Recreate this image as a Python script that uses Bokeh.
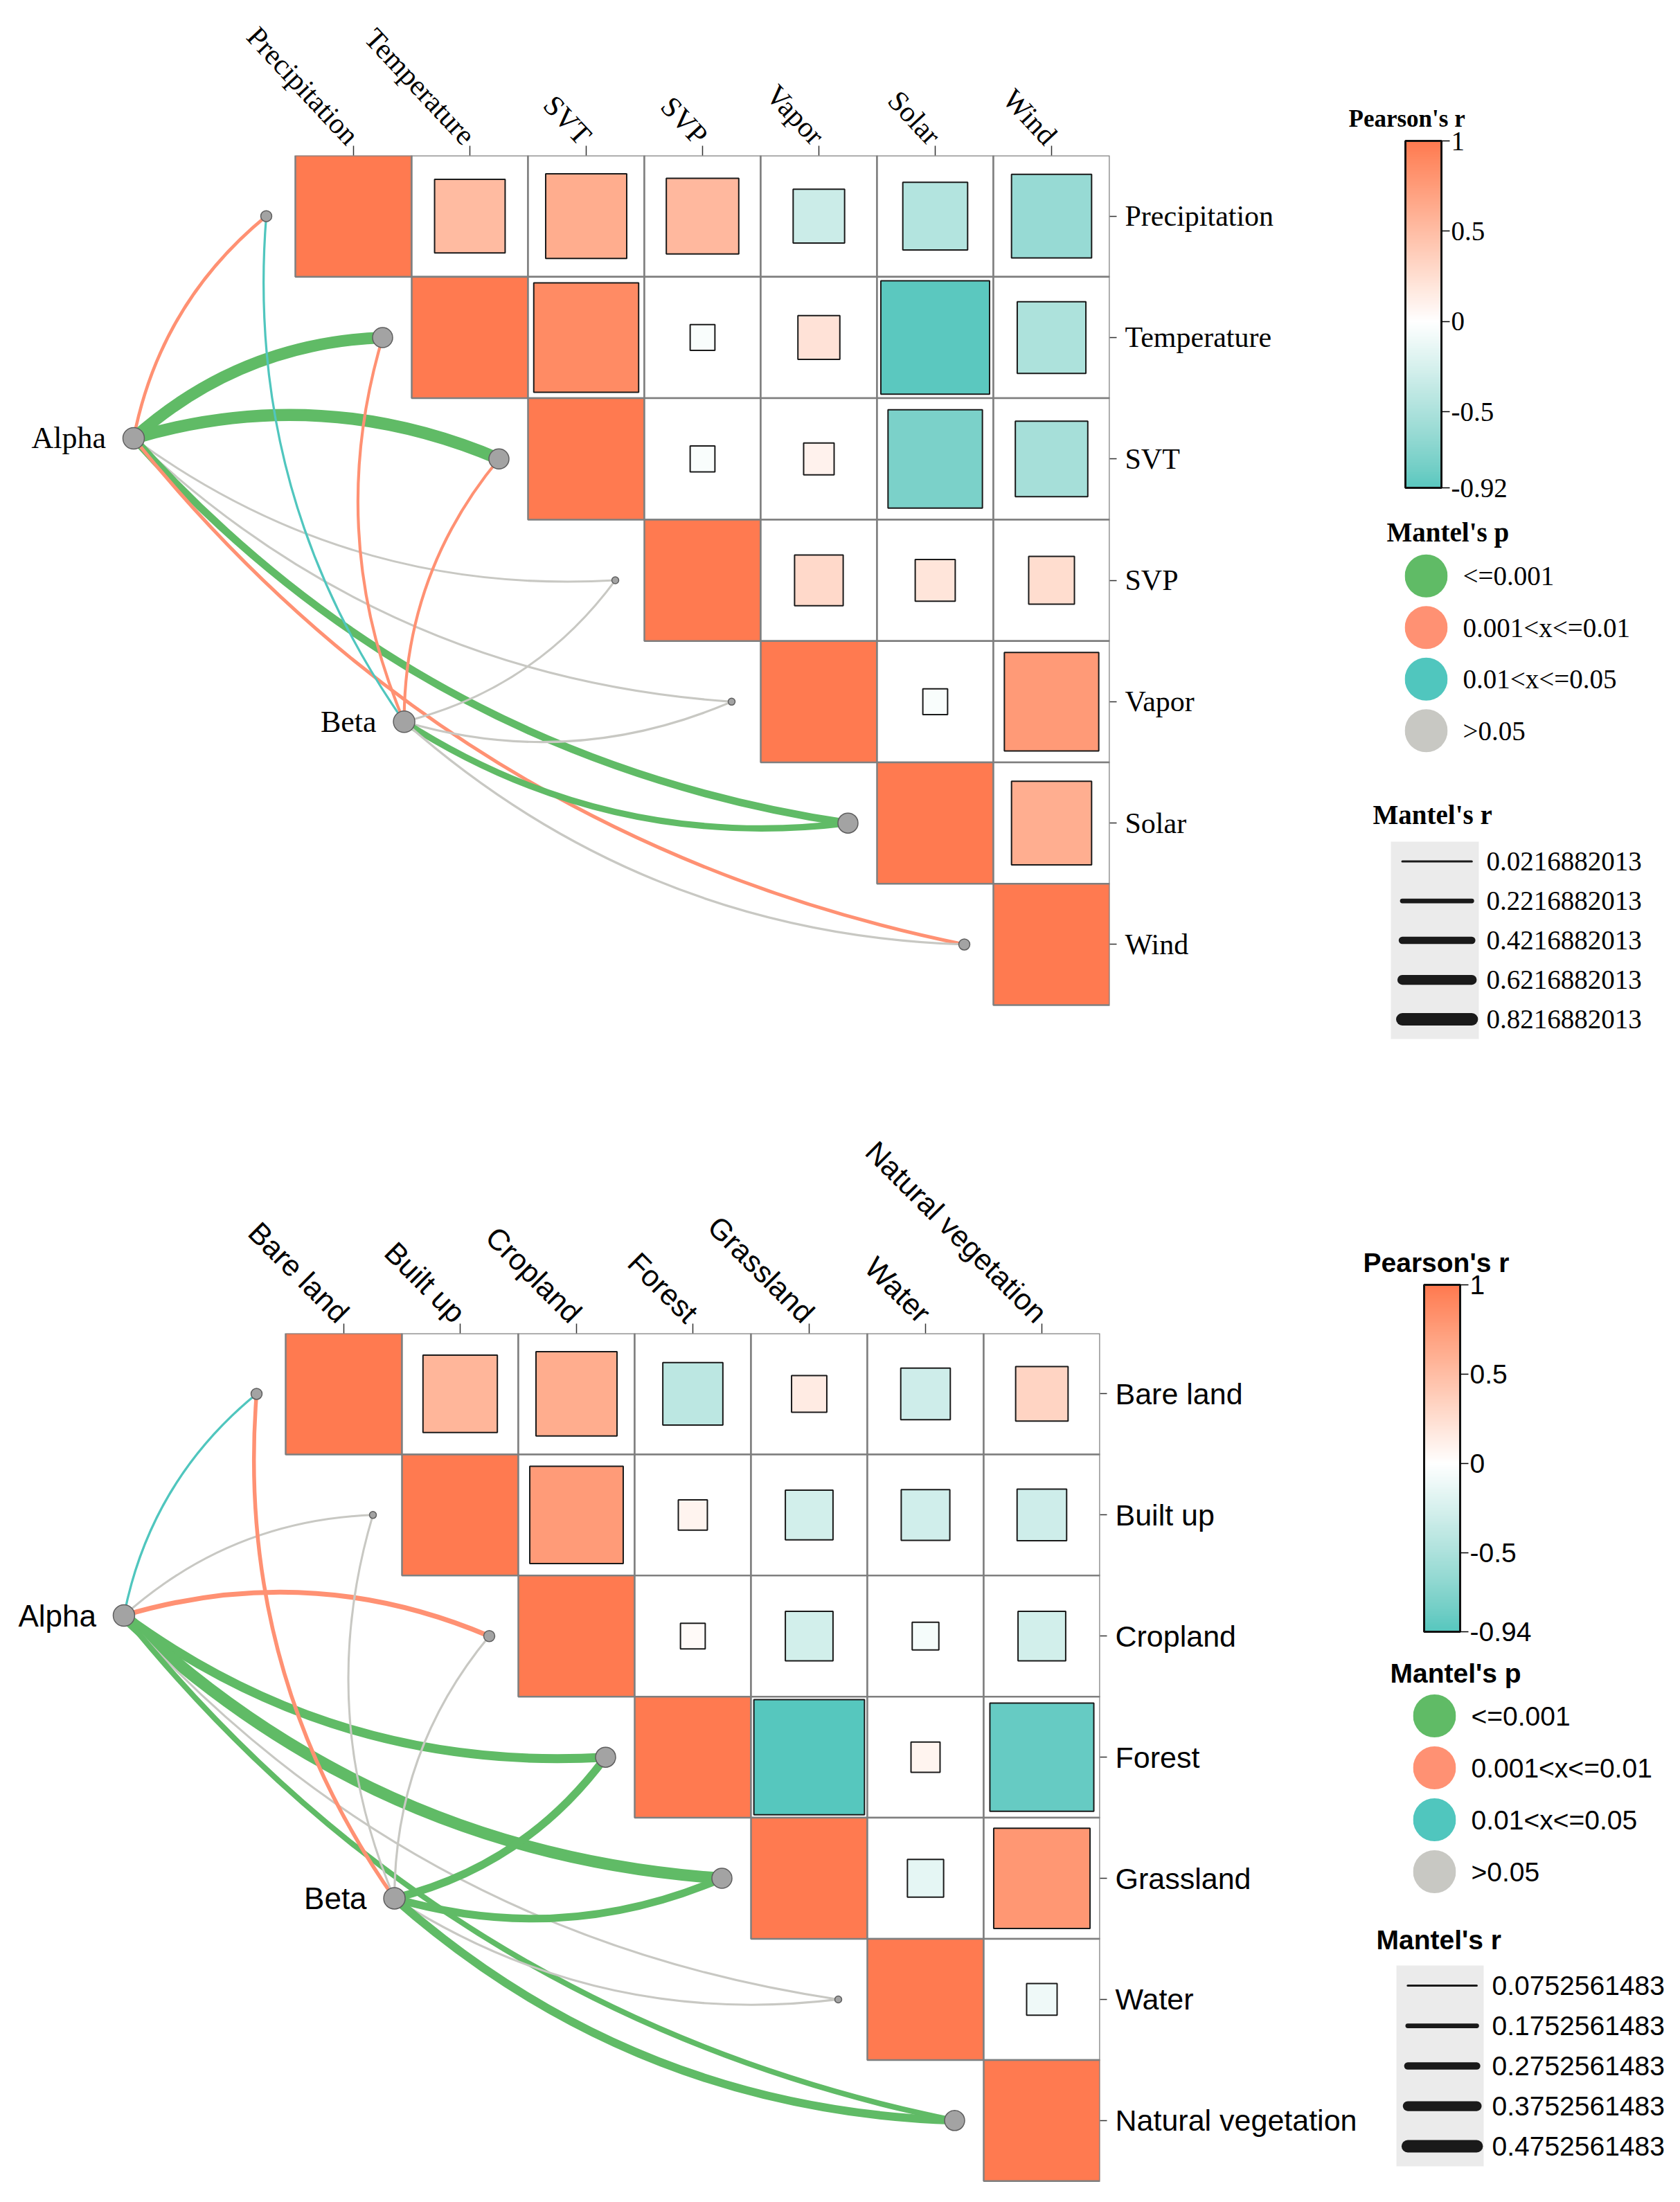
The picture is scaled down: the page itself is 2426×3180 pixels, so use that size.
import math
from bokeh.plotting import figure
from bokeh.models import (Range1d, FactorRange, FixedTicker, ColorBar, LinearColorMapper, ColumnDataSource,
                          AllLabels)
from bokeh.layouts import row, column
from bokeh.embed import file_html
from bokeh.resources import INLINE
from bokeh.core.properties import value

# ============================== DATA ==============================
p_levels = ["<=0.001", "0.001<x<=0.01", "0.01<x<=0.05", ">0.05"]

climate_vars = ["Precipitation", "Temperature", "SVT", "SVP", "Vapor", "Solar", "Wind"]
# upper triangle of Pearson's r: row i holds r(i, j) for j > i
climate_pearson = [
    [0.52, 0.63, 0.54, -0.32, -0.46, -0.62],
    [0.88, -0.04, 0.22, -0.92, -0.50],
    [-0.04, 0.10, -0.77, -0.54],
    [0.29, 0.20, 0.26],
    [-0.04, 0.77],
    [0.62],
]
climate_alpha_r = [0.107, 0.768, 0.800, 0.0216882013, 0.030, 0.440, 0.128]
climate_alpha_p = ["0.001<x<=0.01", "<=0.001", "<=0.001", ">0.05", ">0.05", "<=0.001", "0.001<x<=0.01"]
climate_beta_r = [0.035, 0.085, 0.085, 0.025, 0.028, 0.350, 0.035]
climate_beta_p = ["0.01<x<=0.05", "0.001<x<=0.01", "0.001<x<=0.01", ">0.05", ">0.05", "<=0.001", ">0.05"]
climate_r_breaks = [0.0216882013, 0.2216882013, 0.4216882013, 0.6216882013, 0.8216882013]
climate_cb_ticks = [1, 0.5, 0, -0.5, -0.92]
climate_cb_labels = ["1", "0.5", "0", "-0.5", "-0.92"]

land_vars = ["Bare land", "Built up", "Cropland", "Forest", "Grassland", "Water", "Natural vegetation"]
land_pearson = [
    [0.56, 0.63, -0.41, 0.15, -0.30, 0.33],
    [0.76, 0.085, -0.28, -0.29, -0.30],
    [0.04, -0.28, -0.06, -0.28],
    [-0.94, 0.085, -0.87],
    [-0.16, 0.79],
    [-0.10],
]
land_alpha_r = [0.083, 0.0752561483, 0.182, 0.342, 0.449, 0.078, 0.209]
land_alpha_p = ["0.01<x<=0.05", ">0.05", "0.001<x<=0.01", "<=0.001", "<=0.001", ">0.05", "<=0.001"]
land_beta_r = [0.142, 0.077, 0.080, 0.300, 0.290, 0.080, 0.315]
land_beta_p = ["0.001<x<=0.01", ">0.05", ">0.05", "<=0.001", "<=0.001", ">0.05", "<=0.001"]
land_r_breaks = [0.0752561483, 0.1752561483, 0.2752561483, 0.3752561483, 0.4752561483]
land_cb_ticks = [1, 0.5, 0, -0.5, -0.94]
land_cb_labels = ["1", "0.5", "0", "-0.5", "-0.94"]

# ============================== STYLE ==============================
P_COLORS = ["#60BB66", "#FF9173", "#50C6BE", "#C8C8C3"]
NODE_SIZES = [29, 16, 13, 10]
HIGH_HEX, MID_HEX, LOW_HEX = "#FF7A50", "#FFFFFF", "#46C3BA"
ALPHA_POS = (-1.89, 1.83)
BETA_POS = (0.435, 4.165)
END_SHIFT = 0.75
SAG = 0.09
SIDE_MIN = 0.18


def hex_rgb(h):
    return tuple(int(h[i:i + 2], 16) / 255 for i in (1, 3, 5))


def _lin(c):
    return c / 12.92 if c <= 0.04045 else ((c + 0.055) / 1.055) ** 2.4


def _gam(c):
    c = max(0.0, min(1.0, c))
    return 12.92 * c if c <= 0.0031308 else 1.055 * c ** (1 / 2.4) - 0.055


def rgb_lab(rgb):
    r, g, b = [_lin(c) for c in rgb]
    X = (0.4124 * r + 0.3576 * g + 0.1805 * b) / 0.95047
    Y = 0.2126 * r + 0.7152 * g + 0.0722 * b
    Z = (0.0193 * r + 0.1192 * g + 0.9505 * b) / 1.08883

    def f(t):
        return t ** (1 / 3) if t > 0.008856 else 7.787 * t + 16 / 116
    fx, fy, fz = f(X), f(Y), f(Z)
    return (116 * fy - 16, 500 * (fx - fy), 200 * (fy - fz))


def lab_rgb(lab):
    L, a, b = lab
    fy = (L + 16) / 116
    fx = fy + a / 500
    fz = fy - b / 200

    def fi(t):
        return t ** 3 if t ** 3 > 0.008856 else (t - 16 / 116) / 7.787
    X, Y, Z = 0.95047 * fi(fx), fi(fy), 1.08883 * fi(fz)
    r = 3.2406 * X - 1.5372 * Y - 0.4986 * Z
    g = -0.9689 * X + 1.8758 * Y + 0.0415 * Z
    bb = 0.0557 * X - 0.2040 * Y + 1.0570 * Z
    return tuple(_gam(c) for c in (r, g, bb))


LAB_HIGH, LAB_MID, LAB_LOW = rgb_lab(hex_rgb(HIGH_HEX)), rgb_lab(hex_rgb(MID_HEX)), rgb_lab(hex_rgb(LOW_HEX))


def fill_for(r):
    t = max(-1.0, min(1.0, r))
    end = LAB_HIGH if t >= 0 else LAB_LOW
    a = abs(t)
    lab = tuple(LAB_MID[k] + (end[k] - LAB_MID[k]) * a for k in range(3))
    return "#%02x%02x%02x" % tuple(int(round(c * 255)) for c in lab_rgb(lab))


def link_width(r, breaks):
    return 3.0 + 15.0 * (r - breaks[0]) / (breaks[-1] - breaks[0])


def make_main(names, pearson, alpha_r, alpha_p, beta_r, beta_p, breaks, font, axis_fs, angle_deg,
              fig_w, fig_h, grid_left, grid_top, cw, ch, tick_out, standoff):
    n = len(names)
    frame_w = n * cw
    p = figure(width=fig_w, height=fig_h,
               x_range=Range1d(-0.5 - grid_left / cw, n - 0.5),
               y_range=Range1d(-0.5 + (fig_h - grid_top) / ch, -0.5),
               x_axis_location="above", y_axis_location="right",
               toolbar_location=None, output_backend="svg",
               min_border_left=0, min_border_bottom=0,
               min_border_top=grid_top, min_border_right=int(round(fig_w - grid_left - frame_w)))
    p.outline_line_color = None
    p.grid.visible = False

    # grid cells (upper triangle incl. diagonal)
    cl, cr, ct, cbt, cf = [], [], [], [], []
    for i in range(n):
        for j in range(i, n):
            cl.append(j - 0.5); cr.append(j + 0.5); ct.append(i - 0.5); cbt.append(i + 0.5)
            cf.append(fill_for(1.0) if i == j else "#FFFFFF")
    p.quad(left=cl, right=cr, top=ct, bottom=cbt, fill_color=cf, line_color="#7F7F7F", line_width=2.5)

    # correlation squares
    sl, sr, st, sb, sf = [], [], [], [], []
    for i in range(len(pearson)):
        for k, r in enumerate(pearson[i]):
            j = i + 1 + k
            h = (SIDE_MIN + (1 - SIDE_MIN) * abs(r)) / 2
            sl.append(j - h); sr.append(j + h); st.append(i - h); sb.append(i + h)
            sf.append(fill_for(r))
    p.quad(left=sl, right=sr, top=st, bottom=sb, fill_color=sf, line_color="#1A1A1A", line_width=2)

    # Mantel links
    lk = dict(x0=[], y0=[], x1=[], y1=[], cx=[], cy=[], color=[], width=[])
    best = [len(p_levels) - 1] * n
    for (nx, ny), rs, ps in ((ALPHA_POS, alpha_r, alpha_p), (BETA_POS, beta_r, beta_p)):
        for i in range(n):
            ex, ey = i - END_SHIFT, i
            X0, Y0, X1, Y1 = nx * cw, ny * ch, ex * cw, ey * ch
            dx, dy = X1 - X0, Y1 - Y0
            L = math.hypot(dx, dy)
            sgn = 1 if i < (n - 1) / 2 else -1
            ux, uy = dy / L, -dx / L
            Cx = (X0 + X1) / 2 + sgn * 2 * SAG * L * ux
            Cy = (Y0 + Y1) / 2 + sgn * 2 * SAG * L * uy
            li = p_levels.index(ps[i])
            lk["x0"].append(nx); lk["y0"].append(ny)
            lk["x1"].append(ex); lk["y1"].append(ey)
            lk["cx"].append(Cx / cw); lk["cy"].append(Cy / ch)
            lk["color"].append(P_COLORS[li]); lk["width"].append(link_width(rs[i], breaks))
            best[i] = min(best[i], li)
    p.quadratic(x0="x0", y0="y0", x1="x1", y1="y1", cx="cx", cy="cy",
                line_color="color", line_width="width", source=ColumnDataSource(lk))

    # end nodes
    p.scatter(x=[i - END_SHIFT for i in range(n)], y=list(range(n)),
              size=[NODE_SIZES[b] for b in best], marker="circle",
              fill_color="#A3A3A3", line_color="#5E5E5E", line_width=1.5)
    # Alpha / Beta nodes
    p.scatter(x=[ALPHA_POS[0], BETA_POS[0]], y=[ALPHA_POS[1], BETA_POS[1]], size=31, marker="circle",
              fill_color="#A3A3A3", line_color="#5E5E5E", line_width=1.5)
    p.text(x=[ALPHA_POS[0], BETA_POS[0]], y=[ALPHA_POS[1], BETA_POS[1]], text=["Alpha", "Beta"],
           x_offset=-40, text_align="right", text_baseline="middle",
           text_font=value(font), text_font_size="44px", text_color="black")

    xa = p.xaxis[0]
    xa.ticker = FixedTicker(ticks=list(range(n)))
    xa.major_label_overrides = {i: nm for i, nm in enumerate(names)}
    xa.major_label_orientation = -math.radians(angle_deg)
    ya = p.yaxis[0]
    ya.ticker = FixedTicker(ticks=list(range(n)))
    ya.major_label_overrides = {i: nm for i, nm in enumerate(names)}
    for ax, tout, stand in ((xa, tick_out, standoff), (ya, 10, 12)):
        ax.axis_line_color = None
        ax.major_tick_in = 0
        ax.major_tick_out = tout
        ax.major_tick_line_color = "#333333"
        ax.major_tick_line_width = 1.5
        ax.minor_tick_line_color = None
        ax.major_label_standoff = stand
        ax.major_label_text_font = font
        ax.major_label_text_font_size = f"{axis_fs}px"
        ax.major_label_text_color = "black"
    return p


def style_title(p, font, fs, offset, standoff):
    t = p.title
    t.text_font = font
    t.text_font_size = f"{fs}px"
    t.text_font_style = "bold"
    t.text_color = "black"
    t.align = "left"
    t.offset = offset
    t.standoff = standoff


def make_cb(lo, ticks, labels, font, title_fs, label_fs, fig_w, fig_h, top_border, t_off, t_stand,
            bar_x, bar_y, bar_w, bar_h):
    p = figure(width=fig_w, height=fig_h, x_range=Range1d(0, 1), y_range=Range1d(0, 1),
               x_axis_location=None, y_axis_location=None, toolbar_location=None, output_backend="svg",
               title="Pearson's r", min_border_left=0, min_border_right=0, min_border_bottom=0,
               min_border_top=top_border)
    p.outline_line_color = None
    p.grid.visible = False
    style_title(p, font, title_fs, t_off, t_stand)
    steps = 256
    palette = [fill_for(lo + (1 - lo) * k / (steps - 1)) for k in range(steps)]
    mapper = LinearColorMapper(palette=palette, low=lo, high=1)
    cbar = ColorBar(color_mapper=mapper, location=(bar_x, bar_y), width=bar_w, height=bar_h,
                    padding=0, margin=0, ticker=FixedTicker(ticks=ticks),
                    major_label_overrides=dict(zip(ticks, labels)),
                    major_label_policy=AllLabels(),
                    major_tick_in=0, major_tick_out=12, major_tick_line_color="black",
                    major_tick_line_width=1.5, label_standoff=2,
                    major_label_text_font=font, major_label_text_font_size=f"{label_fs}px",
                    major_label_text_color="black",
                    bar_line_color="#111111", bar_line_width=3,
                    border_line_color=None, background_fill_alpha=0)
    p.add_layout(cbar)
    return p


def make_p_legend(font, title_fs, label_fs, fig_w, fig_h, left, fw, top, fh, t_off, t_stand, standoff):
    p = figure(width=fig_w, height=fig_h, x_range=Range1d(0, 1),
               y_range=FactorRange(factors=list(reversed(p_levels))),
               x_axis_location=None, y_axis_location="right", toolbar_location=None, output_backend="svg",
               title="Mantel's p", min_border_left=left, min_border_right=fig_w - left - fw,
               min_border_top=top, min_border_bottom=fig_h - top - fh)
    p.outline_line_color = None
    p.grid.visible = False
    style_title(p, font, title_fs, t_off, t_stand)
    p.scatter(x=[0.5] * len(p_levels), y=p_levels, size=62, marker="circle",
              fill_color=P_COLORS, line_color=None)
    ax = p.yaxis[0]
    ax.axis_line_color = None
    ax.major_tick_line_color = None
    ax.minor_tick_line_color = None
    ax.major_label_standoff = standoff
    ax.major_label_text_font = font
    ax.major_label_text_font_size = f"{label_fs}px"
    ax.major_label_text_color = "black"
    return p


def make_r_legend(breaks, font, title_fs, label_fs, fig_w, fig_h, left, fw, top, fh, t_off, t_stand, standoff):
    labels = [repr(b) for b in breaks]
    p = figure(width=fig_w, height=fig_h, x_range=Range1d(0, 1),
               y_range=FactorRange(factors=list(reversed(labels))),
               x_axis_location=None, y_axis_location="right", toolbar_location=None, output_backend="svg",
               title="Mantel's r", min_border_left=left, min_border_right=fig_w - left - fw,
               min_border_top=top, min_border_bottom=fig_h - top - fh)
    p.outline_line_color = None
    p.grid.visible = False
    p.background_fill_color = "#EBEBEB"
    style_title(p, font, title_fs, t_off, t_stand)
    p.segment(x0=[0.13] * len(labels), x1=[0.92] * len(labels), y0=labels, y1=labels,
              line_width=[link_width(b, breaks) for b in breaks], line_color="#1A1A1A", line_cap="round")
    ax = p.yaxis[0]
    ax.axis_line_color = None
    ax.major_tick_line_color = None
    ax.minor_tick_line_color = None
    ax.major_label_standoff = standoff
    ax.major_label_text_font = font
    ax.major_label_text_font_size = f"{label_fs}px"
    ax.major_label_text_color = "black"
    return p


SERIF = "Liberation Serif"
SANS = "Liberation Sans"

# ---------------- top panel (climate) ----------------
main1 = make_main(climate_vars, climate_pearson, climate_alpha_r, climate_alpha_p, climate_beta_r,
                  climate_beta_p, climate_r_breaks, SERIF, 42, 47,
                  fig_w=1940, fig_h=1588, grid_left=426, grid_top=224, cw=168, ch=175.3,
                  tick_out=14, standoff=8)
cb1 = make_cb(min(min(r) for r in climate_pearson), climate_cb_ticks, climate_cb_labels, SERIF, 35, 39,
              fig_w=484, fig_h=740, top_border=193, t_off=7, t_stand=6,
              bar_x=89, bar_y=36, bar_w=52, bar_h=501)
pl1 = make_p_legend(SERIF, 39, 39, fig_w=484, fig_h=370, left=88, fw=62, top=52, fh=300,
                    t_off=-26, t_stand=9, standoff=16)
rl1 = make_r_legend(climate_r_breaks, SERIF, 39, 39, fig_w=484, fig_h=478, left=68, fw=127, top=105,
                    fh=285, t_off=-26, t_stand=35, standoff=5)

# ---------------- bottom panel (land cover) ----------------
main2 = make_main(land_vars, land_pearson, land_alpha_r, land_alpha_p, land_beta_r, land_beta_p,
                  land_r_breaks, SANS, 43, 45,
                  fig_w=1968, fig_h=1590, grid_left=412, grid_top=337, cw=168, ch=174.9,
                  tick_out=14, standoff=9)
cb2 = make_cb(min(min(r) for r in land_pearson), land_cb_ticks, land_cb_labels, SANS, 39, 39,
              fig_w=456, fig_h=797, top_border=258, t_off=0, t_stand=3,
              bar_x=88, bar_y=29, bar_w=52, bar_h=501)
pl2 = make_p_legend(SANS, 39, 39, fig_w=456, fig_h=375, left=72, fw=62, top=55, fh=300,
                    t_off=-33, t_stand=6, standoff=16)
rl2 = make_r_legend(land_r_breaks, SANS, 39, 39, fig_w=456, fig_h=418, left=48, fw=126, top=78,
                    fh=290, t_off=-29, t_stand=32, standoff=6)

# each legend figure is wrapped in its own row so that frames are not aligned across them
legend1 = column(row(cb1), row(pl1), row(rl1))
legend2 = column(row(cb2), row(pl2), row(rl2))
layout = column(row(main1, legend1), row(main2, legend2))
open("out.html", "w").write(file_html(layout, INLINE))
